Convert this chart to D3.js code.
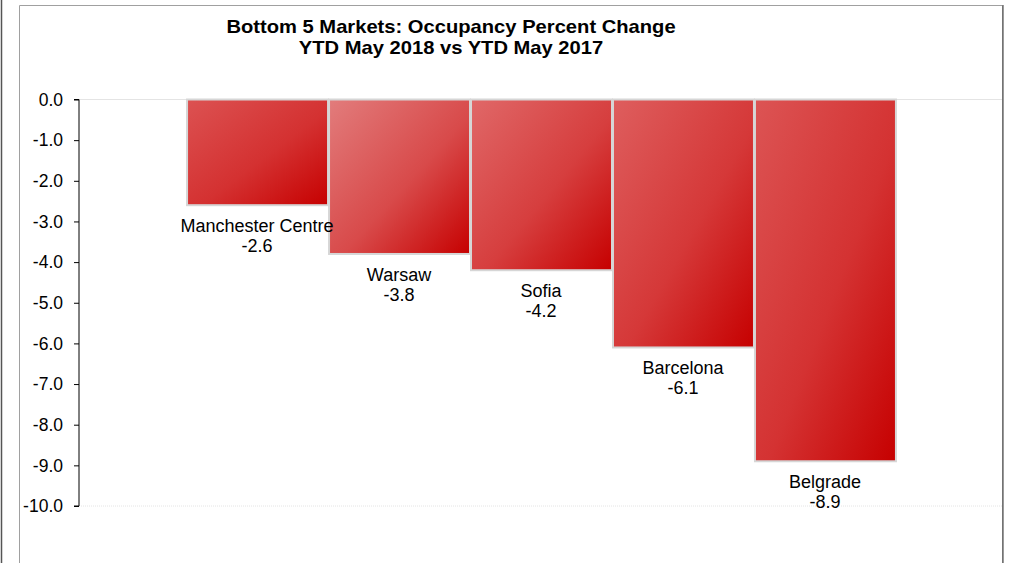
<!DOCTYPE html>
<html><head><meta charset="utf-8">
<script src="https://cdn.jsdelivr.net/npm/d3@7"></script>
<style>body{margin:0;background:#fff;}svg{display:block;font-family:Arial,"Liberation Sans",sans-serif;}</style>
</head><body>
<svg id="c" width="1009" height="563"></svg>
<script>
const categories = ["Manchester Centre", "Warsaw", "Sofia", "Barcelona", "Belgrade"];
const values = [-2.6, -3.8, -4.2, -6.1, -8.9];
const yTicks = [0, -1, -2, -3, -4, -5, -6, -7, -8, -9, -10];
const titleLines = ["Bottom 5 Markets: Occupancy Percent Change", "YTD May 2018 vs YTD May 2017"];
const barStartColors = ["#dc5252", "#e27c7c", "#e06868", "#de5e5e", "#dc5454"];

const svg = d3.select("#c");
// frame
svg.append("line").attr("x1",1.5).attr("x2",1.5).attr("y1",0).attr("y2",563).attr("stroke","#555").attr("stroke-width",1.5);
svg.append("path").attr("d","M19.5,563V5.5H1002.5V563").attr("fill","none").attr("stroke","#a0a0a0").attr("stroke-width",1);
svg.append("line").attr("x1",1003).attr("x2",1003).attr("y1",5).attr("y2",563).attr("stroke","#555").attr("stroke-width",1.2);

const x = d3.scaleBand().domain(categories).range([79,1003]).paddingInner(0).paddingOuter(0.754);
const y = d3.scaleLinear().domain([0,-10]).range([99.5,506]);

// title
const t = svg.append("g").attr("transform","translate(451,0) scale(1.12,1)")
  .append("text").attr("text-anchor","middle").attr("font-weight","bold").attr("font-size",18).attr("fill","#000");
titleLines.forEach((l,i)=>t.append("tspan").attr("x",0).attr("y",33.5+i*20.5).text(l));

// gridlines at 0 and -10
svg.append("line").attr("x1",79).attr("x2",1002).attr("y1",y(0)).attr("y2",y(0)).attr("stroke","#e4e4e4");
svg.append("line").attr("x1",79).attr("x2",1002).attr("y1",y(-10)).attr("y2",y(-10)).attr("stroke","#e4e4e4").attr("stroke-dasharray","1,1");

// gradients
const defs = svg.append("defs");
categories.forEach((c,i)=>{
  const g = defs.append("linearGradient").attr("id","g"+i).attr("x1",0).attr("y1",0).attr("x2",1).attr("y2",1);
  g.append("stop").attr("offset","0%").attr("stop-color",barStartColors[i]);
  g.append("stop").attr("offset","55%").attr("stop-color",d3.interpolateRgb(barStartColors[i],"#c80000")(0.4));
  g.append("stop").attr("offset","100%").attr("stop-color","#c60000");
});

// bars
svg.selectAll("rect.bar").data(values).enter().append("rect").attr("class","bar")
  .attr("x",(d,i)=>x(categories[i])+1)
  .attr("y",y(0))
  .attr("width",x.bandwidth()-1)
  .attr("height",d=>y(d)-y(0))
  .attr("fill",(d,i)=>"url(#g"+i+")")
  .attr("stroke","#d6d6d6").attr("stroke-width",2);

// axis
const axis = d3.axisLeft(y).tickValues(yTicks).tickSize(5).tickFormat(d3.format(".1f"));
const ag = svg.append("g").attr("transform","translate(79,0)").call(axis);
ag.select(".domain").attr("stroke","#000").attr("d","M-5,"+y(0)+"H0V"+y(-10)+"H-5");
ag.selectAll(".tick line").attr("stroke","#000");
ag.selectAll(".tick text").attr("font-size",17.5).attr("fill","#000").attr("x",-16).attr("dy","0.33em").attr("font-family","Arial,'Liberation Sans',sans-serif")
  .text(d=>d===0?"0.0":d3.format(".1f")(d).replace("−","-"));

// labels
const lg = svg.selectAll("text.lab").data(values).enter().append("text").attr("class","lab")
  .attr("text-anchor","middle").attr("font-size",18).attr("fill","#000");
lg.append("tspan").attr("x",(d,i)=>x(categories[i])+x.bandwidth()/2).attr("y",d=>y(d)+27).text((d,i)=>categories[i]);
lg.append("tspan").attr("x",(d,i)=>x(categories[i])+x.bandwidth()/2).attr("y",d=>y(d)+47).text(d=>d.toFixed(1));
</script>
</body></html>
